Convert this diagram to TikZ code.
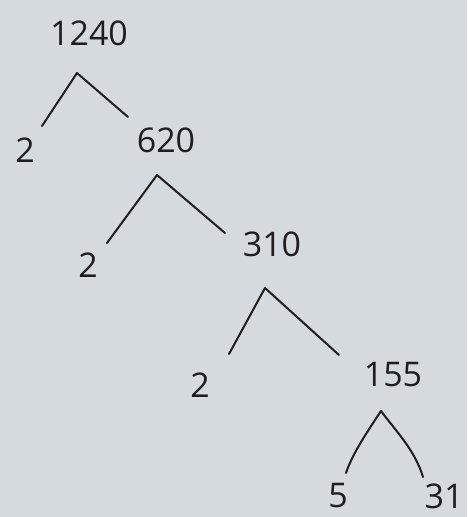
\documentclass[tikz,border=0pt]{standalone}
\usepackage{fontspec}
\setmainfont{Open Sans}
\definecolor{paper}{RGB}{212,218,221}
\definecolor{ink}{RGB}{30,30,32}
\begin{document}
\begin{tikzpicture}[x=1pt,y=-1pt,
  num/.style={inner sep=0pt, text=ink, font=\fontsize{34}{34}\selectfont},
  branch/.style={draw=ink, line width=2pt, line cap=round, line join=round}]
\fill[paper] (0,0) rectangle (467,517);
\useasboundingbox (0,0) rectangle (467,517);
\node[num] (n1240) at (89,33) {1240};
\node[num] (n2a) at (25,150) {2};
\node[num] (n620) at (166,140) {620};
\node[num] (n2b) at (88,265) {2};
\node[num] (n310) at (272,244) {310};
\node[num] (n2c) at (200,385) {2};
\node[num] (n155) at (393,375) {155};
\node[num] (n5) at (338,496) {5};
\node[num] (n31) at (444,496) {31};
\coordinate (a1) at (77,73);
\coordinate (l1) at (42,126);
\coordinate (r1) at (128,117);
\coordinate (a2) at (157,175);
\coordinate (l2) at (107,243);
\coordinate (r2) at (225,233);
\coordinate (a3) at (265,288);
\coordinate (l3) at (229,354);
\coordinate (r3) at (339,355);
\coordinate (a4) at (381,411);
\coordinate (l4) at (346,473);
\coordinate (r4) at (423,477);
\draw[branch] (l1) -- (a1) -- (r1);
\draw[branch] (l2) -- (a2) -- (r2);
\draw[branch] (l3) -- (a3) -- (r3);
\draw[branch] (l4) .. controls (352,455) and (365,435) .. (a4) .. controls (395,430) and (415,450) .. (r4);
\end{tikzpicture}
\end{document}
